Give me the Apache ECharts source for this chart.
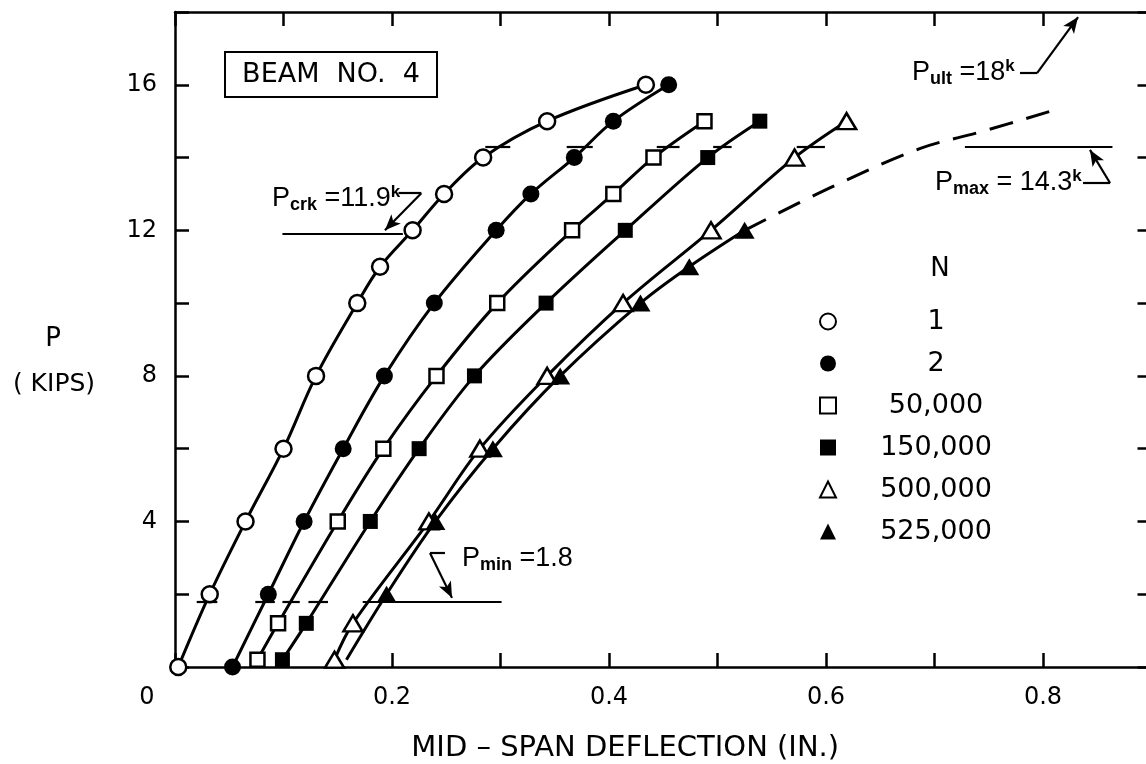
<!DOCTYPE html>
<html><head><meta charset="utf-8">
<script src="https://cdn.jsdelivr.net/npm/echarts@6/dist/echarts.min.js"></script>
<style>html,body{margin:0;padding:0;background:#fff}#c{width:1146px;height:764px}</style>
</head><body><div id="c"></div>
<script>
// ---- data (deflection in., load kips) ----
const xTickLabels = ['0', '0.2', '0.4', '0.6', '0.8'];
const yTickLabels = ['4', '8', '12', '16'];
const seriesNames = ['1', '2', '50,000', '150,000', '500,000', '525,000'];
const n1 = [[0.003,0],[0.032,2],[0.065,4],[0.100,6],[0.130,8],[0.168,10],[0.189,11],[0.219,12],[0.248,13],[0.284,14],[0.343,15],[0.434,16]];
const n2 = [[0.053,0],[0.086,2],[0.119,4],[0.155,6],[0.193,8],[0.239,10],[0.296,12],[0.328,13],[0.368,14],[0.404,15],[0.455,16]];
const n50k = [[0.076,0.2],[0.095,1.2],[0.150,4],[0.192,6],[0.241,8],[0.297,10],[0.366,12],[0.404,13],[0.441,14],[0.488,15]];
const n150k = [[0.099,0.2],[0.121,1.2],[0.180,4],[0.225,6],[0.276,8],[0.342,10],[0.415,12],[0.491,14],[0.539,15]];
const n500k = [[0.147,0.2],[0.164,1.2],[0.234,4],[0.281,6],[0.343,8],[0.413,10],[0.494,12],[0.571,14],[0.619,15]];
const n525k = [[0.195,2],[0.240,4],[0.293,6],[0.355,8],[0.429,10],[0.474,11],[0.525,12]];
const n525kStart = [0.158,0.2];
const n525kDashed = [[0.525,12],[0.606,13.2],[0.687,14.25],[0.742,14.7],[0.810,15.3]];
const pCrk = 11.9, pMax = 14.3, pMin = 1.8;
const pCrkLine = [0.099, 0.210];
const pMaxLine = [0.728, 0.864];
const pMinLine = [0.173, 0.301];
const pMinTicks = [[0.020,0.039],[0.074,0.092],[0.099,0.115],[0.123,0.141]];
const pMaxTicks = [[0.286,0.309],[0.361,0.385],[0.444,0.465],[0.496,0.513],[0.573,0.599]];
const crkHook = [[0.2060,13.02],[0.2270,13.02],[0.1935,12.0]];
const ultHook = [[0.7788,16.32],[0.7945,16.32],[0.8323,17.86]];
const maxHook = [[0.8369,13.30],[0.8618,13.30],[0.8433,14.21]];
const minHook = [[0.2488,3.13],[0.2350,3.13],[0.2553,1.90]];

const FF = 'DejaVu Sans';
const FA = 'Liberation Sans';
const chart = echarts.init(document.getElementById('c'), null, {renderer:'canvas'});

function mk(name, data, symbol, size, filled) {
  return {
    type:'line', name, data, smooth:0.35, symbol, symbolSize:size, showSymbol:true,
    lineStyle:{color:'#000', width:3},
    itemStyle: filled ? {color:'#000', borderWidth:0}
                      : {color:'#fff', borderColor:'#000', borderWidth:2.5},
    emphasis:{disabled:true}, animation:false, z:3
  };
}
function hook(pts) {
  return [
    [{coord:pts[0]}, {coord:pts[1]}],
    [{coord:pts[1]}, {coord:pts[2], symbol:'arrow', symbolSize:[10,16]}]
  ];
}
const ml = [];
ml.push([{coord:[pCrkLine[0],pCrk]},{coord:[pCrkLine[1],pCrk]}]);
ml.push([{coord:[pMaxLine[0],pMax]},{coord:[pMaxLine[1],pMax]}]);
ml.push([{coord:[pMinLine[0],pMin]},{coord:[pMinLine[1],pMin]}]);
pMinTicks.forEach(t => ml.push([{coord:[t[0],pMin]},{coord:[t[1],pMin]}]));
pMaxTicks.forEach(t => ml.push([{coord:[t[0],pMax]},{coord:[t[1],pMax]}]));
[crkHook, ultHook, maxHook, minHook].forEach(h => hook(h).forEach(s => ml.push(s)));

function axisCommon(extra) {
  return Object.assign({
    axisLine:{show:true, onZero:false, lineStyle:{color:'#000', width:2.5}},
    axisTick:{show:true, inside:true, length:14, lineStyle:{color:'#000', width:2.5}},
    splitLine:{show:false}
  }, extra);
}
const rich = (main, sub, rest, sup) => '{p|'+main+'}{s|'+sub+'}{e|'+rest+'}' + (sup ? '{k|'+sup+'}' : '');
const richStyle = {
  p:{fontSize:27, lineHeight:30, fontFamily:FA},
  s:{fontSize:18, lineHeight:17, verticalAlign:'bottom', fontFamily:FA, fontWeight:'bold'},
  e:{fontSize:27, lineHeight:30, fontFamily:FA},
  k:{fontSize:17, lineHeight:15, verticalAlign:'top', fontFamily:FA, fontWeight:'bold'}
};
function ann(x, y, text) {
  return {type:'text', x, y, style:{text, rich:richStyle, fill:'#000', align:'left', verticalAlign:'middle'}};
}

const option = {
  animation:false,
  backgroundColor:'#fff',
  grid:{left:175, width:976.5, top:12, bottom:97, containLabel:false, outerBoundsMode:'none'},
  xAxis:[
    axisCommon({type:'value', position:'bottom', min:0, max:0.9, interval:0.1,
      axisLabel:{show:true, margin:19, color:'#000', fontFamily:FF, fontSize:24,
        formatter:v => { const s = String(Math.round(v*10)/10); if (!xTickLabels.includes(s)) return ''; return s === '0' ? '{z|0}' : s; },
        rich:{z:{padding:[0,56,0,0], fontFamily:FF, fontSize:24, color:'#000'}}},
      name:'MID – SPAN DEFLECTION (IN.)', nameLocation:'middle', nameGap:67,
      nameTextStyle:{fontFamily:FF, fontSize:29, color:'#000', padding:[0,76,0,0]}}),
    axisCommon({type:'value', position:'top', min:0, max:0.9, interval:0.1, axisLabel:{show:false}})
  ],
  yAxis:[
    axisCommon({type:'value', position:'left', min:0, max:18, interval:2,
      axisLabel:{show:true, margin:18, color:'#000', fontFamily:FF, fontSize:24,
        formatter:v => yTickLabels.includes(String(Math.round(v))) ? String(Math.round(v)) : ''}}),
    axisCommon({type:'value', position:'right', min:0, max:18, interval:2, axisLabel:{show:false}})
  ],
  legend:{
    orient:'vertical', left:819, top:308, padding:0, itemGap:15, itemWidth:16, itemHeight:16,
    selectedMode:false,
    data:[
      {name:seriesNames[0], icon:'circle'}, {name:seriesNames[1], icon:'circle'},
      {name:seriesNames[2], icon:'rect'}, {name:seriesNames[3], icon:'rect'},
      {name:seriesNames[4], icon:'triangle'}, {name:seriesNames[5], icon:'triangle'}
    ],
    formatter:n => '{a|'+n+'}',
    textStyle:{color:'#000', fontFamily:FF, fontSize:27,
      rich:{a:{width:190, align:'center', fontFamily:FF, fontSize:27, lineHeight:27, color:'#000'}}}
  },
  series:[
    mk(seriesNames[0], n1, 'circle', 16, false),
    mk(seriesNames[1], n2, 'circle', 17, true),
    mk(seriesNames[2], n50k, 'rect', 14, false),
    mk(seriesNames[3], n150k, 'rect', 15, true),
    mk(seriesNames[4], n500k, 'triangle', [19,16], false),
    mk(seriesNames[5], [{value:n525kStart, symbol:'none'}].concat(n525k), 'triangle', [20,17], true),
    {type:'line', name:'ext', data:n525kDashed, smooth:0.35, symbol:'none',
     lineStyle:{color:'#000', width:3, type:[24,14]}, emphasis:{disabled:true}, z:2},
    {type:'line', name:'ann', data:[], markLine:{silent:true, symbol:['none','none'], animation:false,
      label:{show:false}, lineStyle:{color:'#000', width:2.2, type:'solid'}, emphasis:{disabled:true}, data:ml}}
  ],
  graphic:[
    {type:'rect', shape:{x:225, y:52, width:212, height:45}, style:{fill:'none', stroke:'#000', lineWidth:2}},
    {type:'text', x:331, y:75, style:{text:'BEAM  NO.  4', fontFamily:FF, fontSize:27, fill:'#000', align:'center', verticalAlign:'middle'}},
    {type:'text', x:53, y:339, style:{text:'P', fontFamily:FF, fontSize:26, fill:'#000', align:'center', verticalAlign:'middle'}},
    {type:'text', x:54, y:384, style:{text:'( KIPS)', fontFamily:FF, fontSize:25, fill:'#000', align:'center', verticalAlign:'middle'}},
    {type:'text', x:940, y:269, style:{text:'N', fontFamily:FF, fontSize:26, fill:'#000', align:'center', verticalAlign:'middle'}},
    ann(272, 199, rich('P','crk',' =11.9','k')),
    ann(912, 73, rich('P','ult',' =18','k')),
    ann(935, 183, rich('P','max',' = 14.3','k')),
    ann(462, 559, rich('P','min',' =1.8',''))
  ]
};
chart.setOption(option);
</script></body></html>
